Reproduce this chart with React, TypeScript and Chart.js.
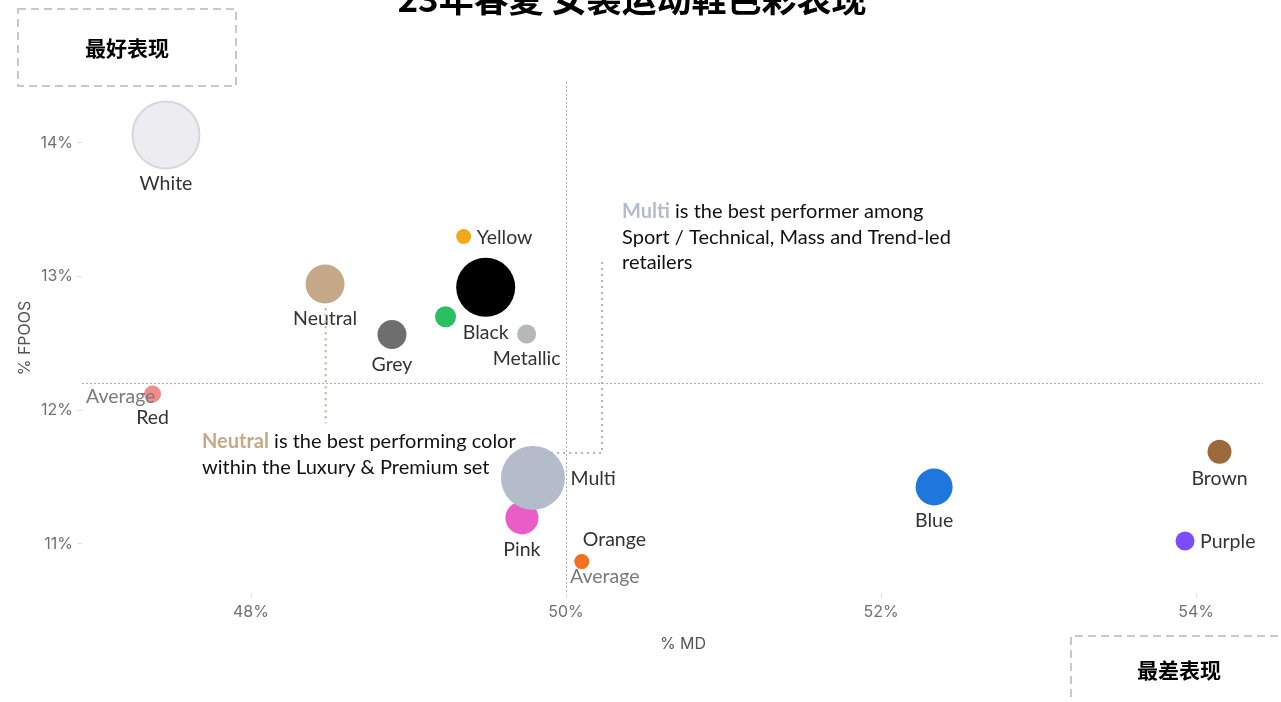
import React, { useEffect, useRef } from "react";
import { Chart, registerables } from "chart.js";

Chart.register(...registerables);

// ---------- data ----------
const colorNames = ["White", "Yellow", "Neutral", "Black", "Green", "Grey", "Metallic", "Red", "Pink", "Multi", "Orange", "Blue", "Brown", "Purple"];
const mdValues = [47.46, 49.35, 48.47, 49.49, 49.235, 48.895, 49.75, 47.375, 49.72, 49.79, 50.1, 52.337, 54.149, 53.93];
const fpoosValues = [14.06, 13.3, 12.945, 12.92, 12.7, 12.567, 12.571, 12.122, 11.195, 11.494, 10.868, 11.426, 11.69, 11.022];
const bubbleRadius = [33.5, 7.5, 19.5, 29.5, 10.5, 14.5, 9.5, 8.5, 16.5, 32, 7.5, 18.5, 12, 9.5];
const xTickValues = [48, 50, 52, 54];
const yTickValues = [11, 12, 13, 14];
const averageMD = 50.0;
const averageFPOOS = 12.207;
const titleText = "23年春夏 女装运动鞋色彩表现";
const bestLabel = "最好表现";
const worstLabel = "最差表现";
const xAxisTitle = "% MD";
const yAxisTitle = "% FPOOS";
const averageText = "Average";
const multiNoteLines = [["Multi", " is the best performer among"], ["", "Sport / Technical, Mass and Trend-led"], ["", "retailers"]];
const neutralNoteLines = [["Neutral", " is the best performing color"], ["", "within the Luxury & Premium set"]];

// ---------- styles ----------
const fillColors = ["#ececf1", "#f2a81d", "#c4a888", "#000000", "#2bbf62", "#6e6e6e", "#b5b8b8", "rgba(240,120,120,0.85)", "#e85ec6", "#b4bccb", "#f5701f", "#1f77dd", "#9c6a3a", "#7b4dff"];
const borderColors = ["#d6d6dc", "#f2a81d", "#c4a888", "#000000", "#2bbf62", "#6e6e6e", "#b5b8b8", "rgba(240,120,120,0.85)", "#e85ec6", "#b4bccb", "#f5701f", "#1f77dd", "#9c6a3a", "#7b4dff"];
const borderWidths = [2, 0, 0, 0, 0, 0, 0, 0, 0, 0, 0, 0, 0, 0];
const labelPlacement = ["below", "right", "below", "below", "none", "below", "below", "below", "below", "right", "aboveRight", "below", "below", "right"];
// annotation anchors in data units
const multiNoteAnchor = { x: 50.356, y: 13.484 };
const multiConnector = [{ x: 50.229, y: 13.11 }, { x: 50.229, y: 11.681 }, { x: 49.87, y: 11.681 }];
const neutralNoteAnchor = { x: 47.689, y: 11.765 };
const neutralConnector = [{ x: 48.474, y: 12.764 }, { x: 48.474, y: 11.903 }];

const LABEL_FONT = '19.5px Lato';
const NOTE_FONT = '20px Lato';
const NOTE_BOLD = 'bold 20px Lato';
const TICK_FAMILY = "Inter";

const overlayPlugin = {
  id: "overlay",
  beforeDatasetsDraw(chart: any) {
    const { ctx, chartArea: a, scales } = chart;
    const x = scales.x, y = scales.y;
    ctx.save();
    ctx.strokeStyle = "#b0b0b0";
    ctx.lineWidth = 1;
    ctx.setLineDash([2, 2]);
    const ax = Math.round(x.getPixelForValue(averageMD)) + 0.5;
    ctx.beginPath();
    ctx.moveTo(ax, a.top);
    ctx.lineTo(ax, a.bottom);
    ctx.stroke();
    const ay = Math.round(y.getPixelForValue(averageFPOOS)) + 0.5;
    ctx.beginPath();
    ctx.moveTo(a.left, ay);
    ctx.lineTo(a.right, ay);
    ctx.stroke();
    ctx.restore();
  },
  afterDatasetsDraw(chart: any) {
    const { ctx, chartArea: a, scales } = chart;
    const x = scales.x, y = scales.y;
    const meta = chart.getDatasetMeta(0);
    ctx.save();
    ctx.setLineDash([]);
    // bubble labels
    ctx.font = LABEL_FONT;
    ctx.fillStyle = "#333333";
    meta.data.forEach((el: any, i: number) => {
      const p = labelPlacement[i];
      const r = bubbleRadius[i];
      if (p === "below") {
        ctx.textAlign = "center";
        ctx.textBaseline = "middle";
        ctx.fillText(colorNames[i], el.x, el.y + r + 15.5);
      } else if (p === "right") {
        ctx.textAlign = "left";
        ctx.textBaseline = "middle";
        ctx.fillText(colorNames[i], el.x + r + 5.5, el.y + 1);
      } else if (p === "aboveRight") {
        ctx.textAlign = "left";
        ctx.textBaseline = "middle";
        ctx.fillText(colorNames[i], el.x + 1, el.y - 22);
      }
    });
    // average labels
    ctx.fillStyle = "#7a7a7a";
    ctx.textAlign = "left";
    ctx.textBaseline = "middle";
    const ay = y.getPixelForValue(averageFPOOS);
    ctx.fillText(averageText, a.left + 4, ay + 14);
    const ax = x.getPixelForValue(averageMD);
    ctx.fillText(averageText, ax + 4, a.bottom - 16);

    // connectors
    const drawDotted = (pts: any[], color: string) => {
      ctx.save();
      ctx.strokeStyle = color;
      ctx.lineWidth = 2;
      ctx.setLineDash([2, 4]);
      ctx.beginPath();
      pts.forEach((pt, k) => {
        const px = x.getPixelForValue(pt.x), py = y.getPixelForValue(pt.y);
        if (k === 0) ctx.moveTo(px, py); else ctx.lineTo(px, py);
      });
      ctx.stroke();
      ctx.restore();
    };
    drawDotted(multiConnector, "#a9b3cc");
    drawDotted(neutralConnector, "#c9aa86");

    // notes
    const drawNote = (lines: string[][], anchor: any, hlColor: string) => {
      const nx = x.getPixelForValue(anchor.x);
      let ny = y.getPixelForValue(anchor.y);
      ctx.textAlign = "left";
      ctx.textBaseline = "middle";
      lines.forEach((ln) => {
        let cx = nx;
        if (ln[0]) {
          ctx.font = NOTE_BOLD;
          ctx.fillStyle = hlColor;
          ctx.fillText(ln[0], cx, ny);
          cx += ctx.measureText(ln[0]).width;
        }
        ctx.font = NOTE_FONT;
        ctx.fillStyle = "#111111";
        ctx.fillText(ln[1], cx, ny);
        ny += 25.5;
      });
    };
    drawNote(multiNoteLines, multiNoteAnchor, "#b4bccb");
    drawNote(neutralNoteLines, neutralNoteAnchor, "#c4a888");

    // axis titles
    ctx.fillStyle = "#555555";
    ctx.font = '16px ' + TICK_FAMILY;
    ctx.textAlign = "center";
    ctx.textBaseline = "middle";
    ctx.fillText(xAxisTitle, 683, 644);
    ctx.save();
    ctx.translate(25, 338);
    ctx.rotate(-Math.PI / 2);
    ctx.fillText(yAxisTitle, 0, 0);
    ctx.restore();

    // title
    ctx.fillStyle = "#000000";
    ctx.font = 'bold 35px "Noto Sans CJK SC"';
    ctx.textAlign = "center";
    ctx.textBaseline = "middle";
    ctx.fillText(titleText, 632, -1);

    // dashed boxes
    ctx.save();
    ctx.strokeStyle = "#c8c8c8";
    ctx.lineWidth = 2;
    ctx.setLineDash([8, 5]);
    ctx.strokeRect(18, 9, 218, 77);
    ctx.beginPath();
    ctx.moveTo(1071, 710);
    ctx.lineTo(1071, 636);
    ctx.lineTo(1290, 636);
    ctx.stroke();
    ctx.restore();
    ctx.fillStyle = "#000000";
    ctx.font = 'bold 21px "Noto Sans CJK SC"';
    ctx.fillText(bestLabel, 127, 48);
    ctx.fillText(worstLabel, 1179, 670);
    ctx.restore();
  },
};

export default function App() {
  const ref = useRef<HTMLCanvasElement | null>(null);
  useEffect(() => {
    if (!ref.current) return;
    const data = colorNames.map((_, i) => ({ x: mdValues[i], y: fpoosValues[i], r: bubbleRadius[i] }));
    const chart = new Chart(ref.current, {
      type: "bubble",
      data: {
        datasets: [
          {
            data,
            backgroundColor: fillColors,
            borderColor: borderColors,
            borderWidth: borderWidths,
            clip: false as any,
          } as any,
        ],
      },
      options: {
        responsive: false,
        animation: false,
        events: [],
        layout: { autoPadding: false, padding: { left: 0, top: 82, right: 18, bottom: 0 } },
        plugins: { legend: { display: false }, tooltip: { enabled: false } },
        scales: {
          x: {
            type: "linear",
            min: 46.927,
            max: 54.425,
            border: { display: false },
            grid: { drawOnChartArea: false, drawTicks: true, tickLength: 5, color: "#e0e0e0" },
            ticks: {
              padding: 5,
              color: "#707070",
              font: { family: TICK_FAMILY, size: 16 },
              callback: (v: any) => v + "%",
            },
            afterBuildTicks: (s: any) => {
              s.ticks = xTickValues.map((v) => ({ value: v }));
            },
            afterFit: (s: any) => {
              s.height = 109;
              s.paddingLeft = 0;
              s.paddingRight = 0;
            },
          },
          y: {
            type: "linear",
            min: 10.633,
            max: 14.456,
            border: { display: false },
            grid: { drawOnChartArea: false, drawTicks: true, tickLength: 5, color: "#e0e0e0" },
            ticks: {
              padding: 4,
              color: "#707070",
              font: { family: TICK_FAMILY, size: 16 },
              callback: (v: any) => v + "%",
            },
            afterBuildTicks: (s: any) => {
              s.ticks = yTickValues.map((v) => ({ value: v }));
            },
            afterFit: (s: any) => {
              s.width = 82;
              s.paddingTop = 0;
              s.paddingBottom = 0;
            },
          },
        },
      },
      plugins: [overlayPlugin],
    } as any);
    return () => chart.destroy();
  }, []);
  return (
    <div style={{ position: "absolute", left: 0, top: 0, width: 1281, height: 702, background: "#fff", overflow: "hidden" }}>
      <canvas ref={ref} width={1281} height={702} style={{ display: "block" }} />
    </div>
  );
}
